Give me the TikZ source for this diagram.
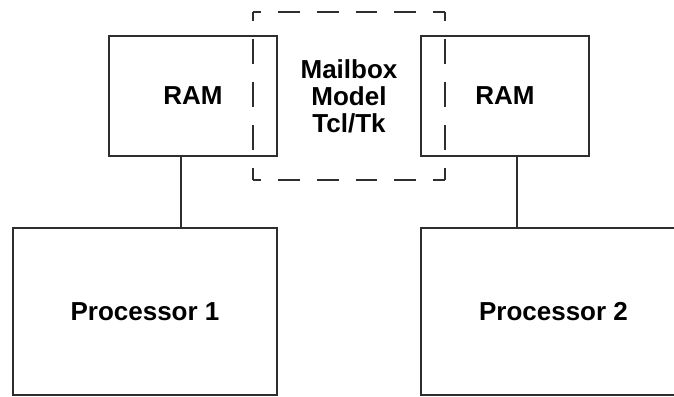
\documentclass[tikz,border=0pt]{standalone}
\usepackage{fontspec}
\setmainfont{Liberation Sans}
\usepackage{xcolor}
\usepackage{tikz}
\usetikzlibrary{positioning, calc}

\definecolor{edgegray}{HTML}{2E2E2E}

\tikzset{
    unit/.style={rectangle, draw=edgegray, line width=2pt, inner sep=0pt,
        font=\bfseries\fontsize{26}{27}\selectfont, align=center},
    ram/.style={unit, minimum width=168pt, minimum height=120pt},
    cpu/.style={unit, minimum width=264.3pt, minimum height=166.5pt},
    link/.style={draw=edgegray, line width=2pt},
    mailedge/.style={draw=edgegray, line width=2pt},
}

\begin{document}
\begin{tikzpicture}[x=1pt, y=-1pt]
        \useasboundingbox (0,0) rectangle (674,396);

        % Memories
        \node[ram] (ramA) at (193,95.7) {RAM};
        \node[ram] (ramB) at (505,95.7) {RAM};

        % Processors
        \node[cpu] (procA) at (145,311.3) {Processor 1};
        \node[cpu] (procB) at (553.5,311.3) {Processor 2};

        % Mailbox region
        \node[rectangle, inner sep=0pt, outer sep=0pt, minimum width=192pt, minimum height=168pt,
            font=\bfseries\fontsize{26}{27}\selectfont, align=center] (mbox) at (349,96) {Mailbox\\Model\\Tcl/Tk};
        \draw[mailedge, dash pattern=on 21.7pt off 16.9pt, dash phase=13.3pt]
            (mbox.north west) -- (mbox.north east)
            (mbox.south west) -- (mbox.south east);
        \draw[mailedge, dash pattern=on 25pt off 18pt, dash phase=15.6pt]
            (mbox.north west) -- (mbox.south west)
            (mbox.north east) -- (mbox.south east);

        % Buses
        \coordinate (tapA) at ([xshift=-12.3pt]ramA.south);
        \coordinate (tapB) at ([xshift=11.7pt]ramB.south);
        \draw[link] (tapA) -- (tapA |- procA.north);
        \draw[link] (tapB) -- (tapB |- procB.north);

\end{tikzpicture}
\end{document}
